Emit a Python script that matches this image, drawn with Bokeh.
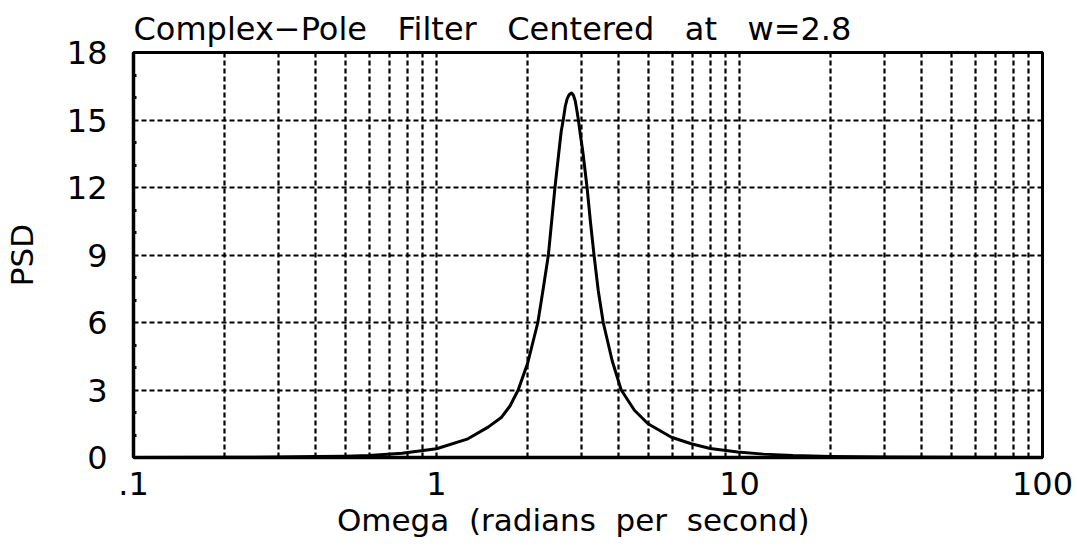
from bokeh.plotting import figure
from bokeh.models import FixedTicker, Range1d
from bokeh.embed import file_html
from bokeh.resources import INLINE

# Data
omega = [0.1, 0.2, 0.3, 0.4, 0.5, 0.6, 0.77, 1.0, 1.27, 1.48, 1.64, 1.75, 1.86, 2.0, 2.16,
         2.25, 2.34, 2.46, 2.55, 2.58, 2.62, 2.66, 2.7, 2.74, 2.79, 2.83, 2.87, 2.9, 2.94,
         2.98, 3.04, 3.14, 3.22, 3.31, 3.42, 3.55, 3.8, 4.07, 4.5, 4.99, 5.96, 6.93, 8.0,
         9.87, 12.0, 15.0, 20.0, 30.0, 50.0, 100.0]
psd = [0.0, 0.01, 0.02, 0.04, 0.06, 0.09, 0.19, 0.39, 0.83, 1.35, 1.79, 2.3, 3.0, 4.2, 6.0,
       7.5, 9.0, 12.0, 13.9, 14.5, 15.0, 15.6, 15.95, 16.12, 16.2, 16.1, 15.85, 15.5, 15.0,
       14.4, 13.6, 12.0, 10.5, 9.0, 7.4, 6.0, 4.3, 3.0, 2.1, 1.5, 0.9, 0.61, 0.4,
       0.24, 0.15, 0.09, 0.05, 0.02, 0.01, 0.0]

x_major = [0.1, 1, 10, 100]
x_labels = {0.1: ".1", 1: "1", 10: "10", 100: "100"}
x_minor = [m * d for d in (0.1, 1, 10) for m in range(2, 10)]
y_major = [0, 3, 6, 9, 12, 15, 18]
y_minor = [v for v in range(0, 19) if v % 3 != 0]

FONT = "DejaVu Sans"
NB = "\u00a0"

p = figure(width=1077, height=551, x_axis_type="log",
           x_range=Range1d(0.1, 100), y_range=Range1d(0, 18),
           output_backend="svg", toolbar_location=None,
           title=(NB * 3).join(["Complex\u2212Pole", "Filter", "Centered", "at", "w=2.8"]),
           min_border_left=131, min_border_right=35, min_border_top=52, min_border_bottom=94)

p.title.text_font = FONT
p.title.text_font_size = "32px"
p.title.text_font_style = "normal"
p.title.text_color = "black"
p.title.align = "left"
p.title.offset = 0
p.title.standoff = 10

p.line(omega, psd, line_color="black", line_width=3, line_join="round")

p.xaxis.ticker = FixedTicker(ticks=x_major, minor_ticks=x_minor)
p.xaxis.major_label_overrides = x_labels
p.yaxis.ticker = FixedTicker(ticks=y_major, minor_ticks=y_minor)

for ax in (p.xaxis[0], p.yaxis[0]):
    ax.axis_line_color = "black"
    ax.axis_line_width = 3.5
    ax.major_tick_line_color = None
    ax.major_label_text_font = FONT
    ax.major_label_text_font_size = "32px"
    ax.major_label_text_color = "black"
    ax.axis_label_text_font = FONT
    ax.axis_label_text_font_size = "31px"
    ax.axis_label_text_font_style = "normal"
    ax.axis_label_text_color = "black"

p.xaxis.minor_tick_line_color = None
p.yaxis.minor_tick_line_color = "black"
p.yaxis.minor_tick_line_width = 3
p.yaxis.minor_tick_in = 3
p.yaxis.minor_tick_out = 0
p.yaxis.major_label_standoff = 20
p.xaxis.major_label_standoff = 8
p.xaxis.axis_label = (NB * 2).join(["Omega", "(radians", "per", "second)"]) + NB * 3
p.yaxis.axis_label = "PSD"
p.yaxis.axis_label_standoff = 24
p.xaxis.axis_label_standoff = 4

for g in (p.xgrid[0], p.ygrid[0]):
    g.grid_line_color = "black"
    g.grid_line_dash = "5 3"
    g.grid_line_width = 2.2
p.xgrid.minor_grid_line_color = "black"
p.xgrid.minor_grid_line_dash = "5 3"
p.xgrid.minor_grid_line_width = 2.2

p.outline_line_color = "black"
p.outline_line_width = 3
p.outline_line_alpha = 1.0

open("out.html", "w").write(file_html(p, INLINE))
